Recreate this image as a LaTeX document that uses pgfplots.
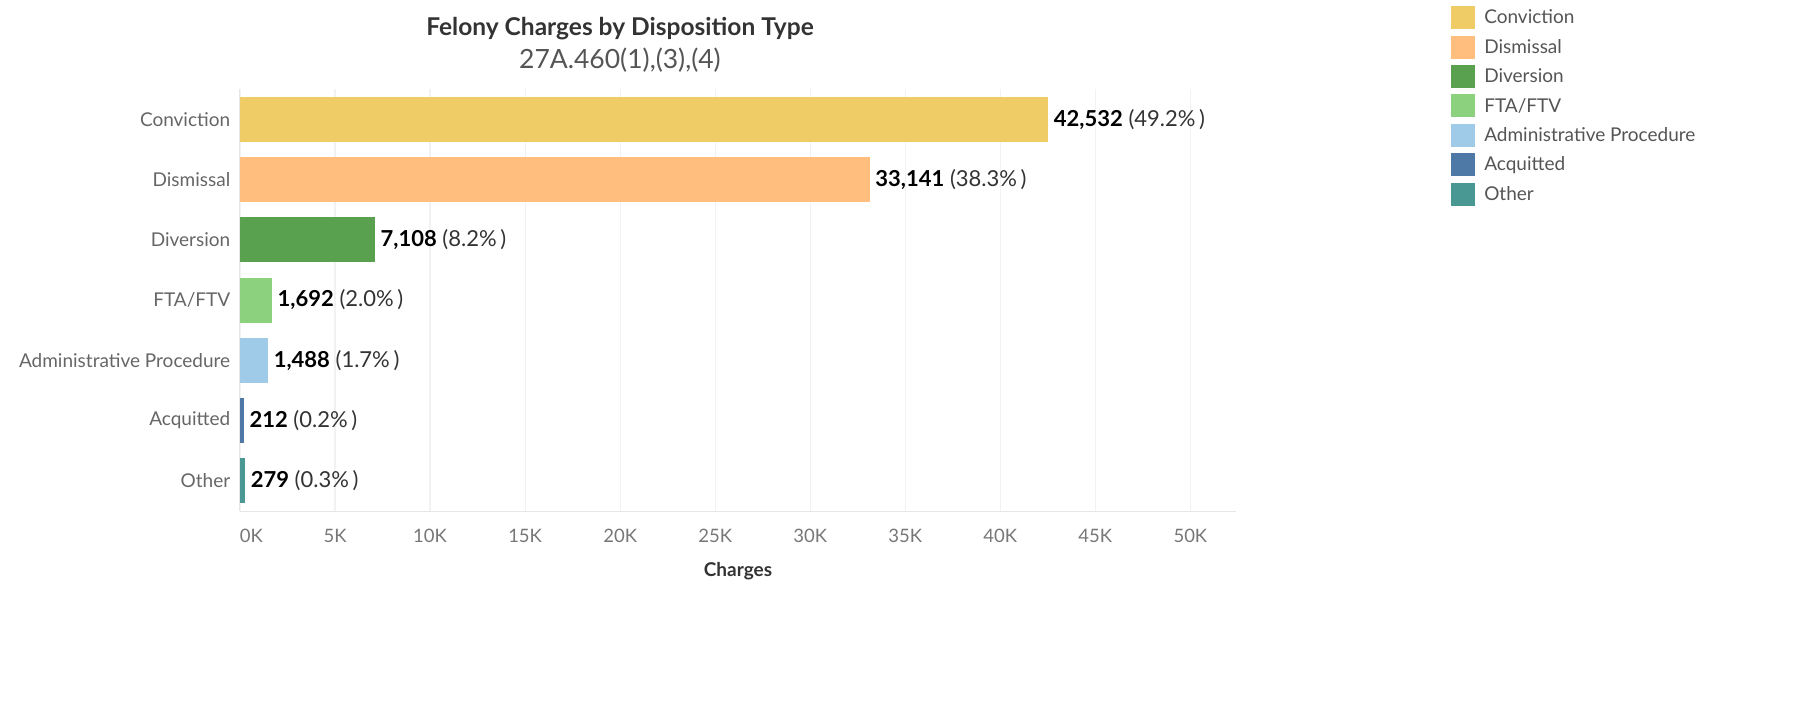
\documentclass[border=0pt]{standalone}
\usepackage{pgfplots}
\pgfplotsset{compat=1.18}
\usepackage{fontspec}
\setmainfont{Lato}
\definecolor{cConv}{HTML}{EFCC65}
\definecolor{cDism}{HTML}{FFBE7D}
\definecolor{cDiv}{HTML}{59A14F}
\definecolor{cFta}{HTML}{8CD17D}
\definecolor{cAdm}{HTML}{A0CBE8}
\definecolor{cAcq}{HTML}{4E79A7}
\definecolor{cOth}{HTML}{499894}
\definecolor{gridc}{HTML}{F2F2F2}
\definecolor{axisc}{HTML}{E6E6E6}
\definecolor{ticktxt}{HTML}{777777}
\definecolor{cattxt}{HTML}{666666}
\definecolor{titletxt}{HTML}{333333}
\definecolor{subtxt}{HTML}{555555}
\definecolor{pcttxt}{HTML}{333333}
\newcommand{\lab}[2]{\textbf{#1} {\color{pcttxt}(#2\%\,)}}
\begin{document}
\begin{tikzpicture}[x=1pt,y=1pt]
\path (0,0) rectangle (1816,710);
\node[font=\fontsize{24.5}{28}\selectfont\bfseries, text=titletxt] at (620,681) {Felony Charges by Disposition Type};
\node[font=\fontsize{26.5}{30}\selectfont, text=subtxt] at (620,650) {27A.460(1),(3),(4)};
\begin{axis}[
  at={(240pt,199pt)}, anchor=south west,
  scale only axis, width=996pt, height=422pt,
  xmin=0, xmax=52400, ymin=-0.5, ymax=6.5, y dir=reverse,
  xbar, bar width=45pt, bar shift=0pt,
  scaled x ticks=false,
  ytick={0,1,2,3,4,5,6},
  yticklabels={Conviction,Dismissal,Diversion,FTA/FTV,Administrative Procedure,Acquitted,Other},
  xtick={0,5000,10000,15000,20000,25000,30000,35000,40000,45000,50000},
  xticklabels={\makebox[0pt][l]{0K},5K,10K,15K,20K,25K,30K,35K,40K,45K,50K},
  tick style={draw=none},
  xmajorgrids, grid style={color=gridc, line width=1.2pt},
  axis x line*=bottom, axis y line*=left,
  axis line style={color=axisc, line width=1pt},
  xticklabel style={font=\fontsize{18.5}{20}\selectfont, text=ticktxt, yshift=-15pt},
  yticklabel style={font=\fontsize{19}{22}\selectfont, text=cattxt, xshift=-2pt},
  xlabel={Charges},
  xlabel style={at={(axis description cs:0.5,0)}, anchor=center, yshift=-60pt, font=\fontsize{19}{22}\selectfont\bfseries, text=titletxt},
  nodes near coords style={font=\fontsize{22}{24}\selectfont, text=black, xshift=2pt},
  legend image code/.code={\fill[#1] (0pt,-11.5pt) rectangle (24pt,11.5pt);},
  legend style={at={(rel axis cs:1.2129,1.2014)}, anchor=north west, draw=none, fill=none,
    font=\fontsize{19}{22}\selectfont, text=subtxt, row sep=6.4pt, column sep=7pt},
  legend cell align=left,
]
\addplot[fill=cConv, draw=none, nodes near coords={\lab{42,532}{49.2}}] coordinates {(42532,0)};
\addlegendentry{Conviction}
\addplot[fill=cDism, draw=none, nodes near coords={\lab{33,141}{38.3}}] coordinates {(33141,1)};
\addlegendentry{Dismissal}
\addplot[fill=cDiv, draw=none, nodes near coords={\lab{7,108}{8.2}}] coordinates {(7108,2)};
\addlegendentry{Diversion}
\addplot[fill=cFta, draw=none, nodes near coords={\lab{1,692}{2.0}}] coordinates {(1692,3)};
\addlegendentry{FTA/FTV}
\addplot[fill=cAdm, draw=none, nodes near coords={\lab{1,488}{1.7}}] coordinates {(1488,4)};
\addlegendentry{Administrative Procedure}
\addplot[fill=cAcq, draw=none, nodes near coords={\lab{212}{0.2}}] coordinates {(212,5)};
\addlegendentry{Acquitted}
\addplot[fill=cOth, draw=none, nodes near coords={\lab{279}{0.3}}] coordinates {(279,6)};
\addlegendentry{Other}
\end{axis}
\end{tikzpicture}
\end{document}
